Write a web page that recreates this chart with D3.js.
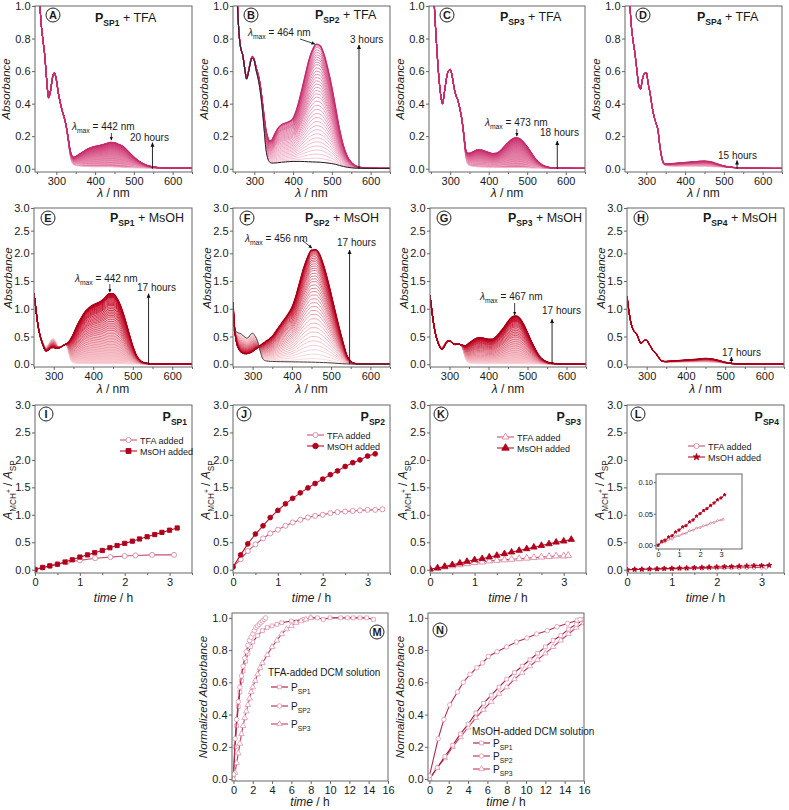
<!DOCTYPE html>
<html><head><meta charset="utf-8">
<script src="https://cdn.jsdelivr.net/npm/d3@7"></script>
<style>
body{margin:0;background:#fff;}
text{font-family:"Liberation Sans",Arial,sans-serif;fill:#1a1a1a;}
</style></head><body>
<script>
// ================= DATA =================
const wl = [250,255,260,265,270,275,280,285,290,295,300,305,310,315,320,325,330,335,340,345,350,360,370,380,390,400,410,420,430,440,450,460,470,480,490,500,510,520,530,540,550,560,580,600,625,650];

const A_init = [1.6,1.15,0.92,0.80,0.70,0.55,0.43,0.47,0.55,0.58,0.54,0.46,0.40,0.35,0.31,0.26,0.18,0.09,0.04,0.025,0.02,0.017,0.015,0.014,0.013,0.012,0.012,0.012,0.012,0.012,0.011,0.010,0.009,0.008,0.007,0.006,0.005,0.005,0.004,0.004,0.004,0.003,0.003,0.003,0.003,0.003];
const A_final = [1.6,1.15,0.92,0.80,0.70,0.55,0.44,0.48,0.56,0.59,0.55,0.47,0.41,0.36,0.32,0.27,0.20,0.12,0.08,0.07,0.075,0.09,0.105,0.12,0.13,0.137,0.142,0.148,0.155,0.162,0.160,0.15,0.14,0.12,0.095,0.072,0.052,0.036,0.024,0.016,0.011,0.008,0.005,0.004,0.003,0.003];
const A_peaks = [0.012,0.03,0.045,0.058,0.07,0.08,0.089,0.097,0.104,0.11,0.116,0.121,0.126,0.13,0.134,0.138,0.141,0.144,0.147,0.149,0.151,0.153,0.155,0.157,0.158,0.159,0.16,0.161,0.162,0.162];

const B_init = [1.5,1.1,0.85,0.74,0.70,0.62,0.55,0.59,0.65,0.68,0.66,0.60,0.55,0.48,0.38,0.25,0.12,0.06,0.04,0.035,0.035,0.037,0.04,0.042,0.044,0.045,0.045,0.045,0.044,0.043,0.042,0.041,0.04,0.038,0.035,0.032,0.027,0.02,0.014,0.009,0.006,0.004,0.003,0.002,0.002,0.002];
const B_final = [1.5,1.1,0.85,0.74,0.70,0.62,0.56,0.60,0.66,0.69,0.67,0.62,0.58,0.52,0.43,0.33,0.24,0.19,0.17,0.175,0.20,0.245,0.27,0.28,0.29,0.31,0.37,0.46,0.56,0.66,0.73,0.765,0.755,0.70,0.61,0.50,0.37,0.24,0.14,0.075,0.04,0.02,0.006,0.003,0.002,0.002];
const B_peaks = [0.041,0.065,0.09,0.115,0.14,0.165,0.19,0.215,0.24,0.265,0.29,0.315,0.34,0.365,0.39,0.415,0.44,0.46,0.48,0.50,0.52,0.54,0.56,0.58,0.60,0.62,0.64,0.655,0.67,0.685,0.70,0.715,0.73,0.745,0.755,0.765];

const C_init = [1.6,1.2,0.95,0.75,0.58,0.46,0.40,0.47,0.55,0.60,0.61,0.57,0.50,0.45,0.42,0.37,0.30,0.20,0.08,0.03,0.02,0.015,0.012,0.011,0.010,0.009,0.009,0.008,0.008,0.008,0.008,0.008,0.008,0.007,0.007,0.006,0.005,0.004,0.004,0.003,0.003,0.003,0.002,0.002,0.002,0.002];
const C_final = [1.6,1.2,0.95,0.75,0.58,0.46,0.40,0.47,0.55,0.60,0.61,0.57,0.50,0.45,0.42,0.37,0.31,0.22,0.12,0.095,0.095,0.105,0.115,0.115,0.108,0.10,0.093,0.095,0.11,0.135,0.16,0.18,0.19,0.185,0.165,0.135,0.10,0.065,0.04,0.022,0.012,0.007,0.004,0.003,0.002,0.002];
const C_peaks = [0.008,0.025,0.04,0.054,0.067,0.079,0.09,0.1,0.109,0.117,0.124,0.131,0.137,0.143,0.148,0.153,0.157,0.161,0.165,0.168,0.171,0.174,0.177,0.179,0.181,0.183,0.185,0.187,0.189,0.19];

const D_init = [1.6,1.15,0.92,0.80,0.72,0.62,0.52,0.49,0.55,0.585,0.59,0.52,0.46,0.38,0.32,0.28,0.23,0.13,0.06,0.025,0.02,0.017,0.016,0.016,0.016,0.016,0.016,0.016,0.016,0.015,0.015,0.014,0.013,0.012,0.011,0.010,0.008,0.007,0.006,0.005,0.005,0.004,0.003,0.003,0.002,0.002];
const D_final = [1.6,1.15,0.92,0.80,0.72,0.62,0.52,0.49,0.55,0.585,0.59,0.52,0.46,0.38,0.32,0.28,0.24,0.14,0.07,0.035,0.03,0.03,0.032,0.034,0.036,0.038,0.04,0.042,0.044,0.046,0.047,0.045,0.04,0.032,0.024,0.017,0.012,0.009,0.007,0.006,0.005,0.004,0.003,0.003,0.002,0.002];
const D_peaks = [0.015,0.02,0.024,0.028,0.031,0.033,0.035,0.037,0.038,0.039,0.04,0.041,0.042,0.043,0.0435,0.044,0.045,0.0455,0.046,0.047];

const E_init = [1.28,0.98,0.72,0.54,0.43,0.35,0.30,0.34,0.40,0.45,0.46,0.40,0.33,0.31,0.32,0.34,0.35,0.30,0.15,0.05,0.025,0.015,0.012,0.011,0.010,0.010,0.010,0.010,0.010,0.010,0.010,0.009,0.009,0.008,0.007,0.006,0.005,0.004,0.004,0.004,0.004,0.003,0.003,0.002,0.002,0.002];
const E_final = [1.28,0.98,0.70,0.52,0.40,0.30,0.24,0.25,0.28,0.30,0.30,0.29,0.29,0.30,0.32,0.34,0.36,0.38,0.42,0.48,0.55,0.71,0.84,0.95,1.02,1.07,1.10,1.14,1.20,1.27,1.27,1.19,1.04,0.82,0.57,0.33,0.15,0.06,0.025,0.012,0.007,0.005,0.003,0.003,0.002,0.002];
const E_peaks = [0.01,0.06,0.11,0.16,0.21,0.26,0.31,0.36,0.41,0.46,0.51,0.56,0.61,0.65,0.69,0.73,0.77,0.81,0.85,0.88,0.91,0.94,0.97,1.0,1.03,1.06,1.08,1.1,1.12,1.14,1.16,1.18,1.2,1.21,1.22,1.23,1.24,1.25,1.26,1.27];

const F_init = [0.62,0.60,0.58,0.56,0.55,0.52,0.49,0.47,0.49,0.54,0.56,0.52,0.46,0.36,0.22,0.11,0.07,0.06,0.055,0.05,0.05,0.048,0.046,0.045,0.044,0.043,0.042,0.041,0.04,0.038,0.037,0.035,0.033,0.03,0.027,0.023,0.018,0.013,0.009,0.006,0.004,0.003,0.002,0.002,0.002,0.002];
const F_final = [1.12,0.58,0.36,0.27,0.22,0.20,0.19,0.19,0.20,0.21,0.23,0.26,0.28,0.31,0.34,0.37,0.39,0.42,0.44,0.47,0.50,0.60,0.70,0.80,0.90,1.02,1.22,1.48,1.73,1.93,2.07,2.08,1.99,1.80,1.55,1.26,0.96,0.67,0.40,0.16,0.05,0.015,0.005,0.003,0.002,0.002];
const F_peaks = [0.035,0.1,0.18,0.26,0.34,0.42,0.5,0.58,0.66,0.74,0.82,0.9,0.97,1.04,1.11,1.18,1.25,1.31,1.37,1.43,1.49,1.54,1.59,1.64,1.69,1.73,1.77,1.81,1.85,1.88,1.91,1.94,1.97,1.99,2.01,2.03,2.05,2.06,2.07,2.08];

const G_init = [1.24,0.95,0.70,0.53,0.42,0.34,0.30,0.34,0.40,0.43,0.43,0.40,0.36,0.35,0.36,0.36,0.34,0.25,0.12,0.05,0.025,0.015,0.012,0.011,0.010,0.010,0.010,0.010,0.010,0.010,0.010,0.010,0.010,0.009,0.008,0.007,0.006,0.005,0.004,0.004,0.003,0.003,0.002,0.002,0.002,0.002];
const G_final = [1.24,0.95,0.70,0.52,0.40,0.31,0.27,0.30,0.36,0.41,0.42,0.40,0.37,0.36,0.36,0.36,0.35,0.34,0.33,0.35,0.38,0.43,0.47,0.48,0.465,0.45,0.45,0.50,0.58,0.67,0.77,0.85,0.87,0.83,0.72,0.57,0.41,0.27,0.15,0.08,0.04,0.02,0.008,0.004,0.003,0.002];
const G_peaks = [0.01,0.05,0.09,0.13,0.17,0.21,0.25,0.29,0.33,0.37,0.41,0.45,0.49,0.52,0.55,0.58,0.61,0.64,0.67,0.69,0.71,0.73,0.75,0.77,0.78,0.79,0.8,0.81,0.82,0.83,0.84,0.85,0.855,0.86,0.865,0.87];

const H_init = [1.23,0.95,0.75,0.63,0.58,0.54,0.45,0.38,0.40,0.43,0.43,0.38,0.32,0.26,0.22,0.18,0.13,0.08,0.05,0.045,0.04,0.04,0.04,0.04,0.04,0.04,0.04,0.04,0.04,0.04,0.04,0.038,0.035,0.03,0.025,0.018,0.012,0.008,0.006,0.004,0.003,0.003,0.002,0.002,0.002,0.002];
const H_final = [1.23,0.95,0.75,0.63,0.58,0.54,0.45,0.38,0.40,0.43,0.43,0.38,0.32,0.26,0.22,0.18,0.13,0.08,0.055,0.05,0.05,0.055,0.06,0.065,0.07,0.075,0.08,0.085,0.09,0.10,0.105,0.10,0.09,0.075,0.055,0.035,0.02,0.012,0.008,0.005,0.004,0.003,0.002,0.002,0.002,0.002];
const H_peaks = [0.04,0.046,0.052,0.057,0.062,0.067,0.071,0.075,0.079,0.082,0.085,0.088,0.091,0.094,0.096,0.098,0.1,0.102,0.104,0.105];

// kinetics (A_MCH+/A_SP vs time / h)
const t10 = [0,0.17,0.33,0.5,0.67,0.83,1.0,1.17,1.33,1.5,1.67,1.83,2.0,2.17,2.33,2.5,2.67,2.83,3.0,3.17];
const I_t_tfa = [0,0.17,0.33,0.5,0.71,1.0,1.34,1.68,2.0,2.24,2.61,3.1];
const I_v_tfa = [0.01,0.04,0.07,0.10,0.14,0.17,0.21,0.23,0.25,0.26,0.27,0.27];
const I_v_ms  = [0.0,0.04,0.07,0.10,0.14,0.18,0.23,0.27,0.31,0.35,0.40,0.44,0.48,0.52,0.56,0.60,0.64,0.68,0.72,0.76];
const J_t_tfa = [0,0.17,0.33,0.5,0.67,0.83,1.0,1.17,1.33,1.5,1.67,1.83,2.0,2.17,2.33,2.5,2.67,2.83,3.0,3.17,3.33];
const J_v_tfa = [0.05,0.19,0.34,0.46,0.57,0.66,0.73,0.80,0.86,0.91,0.95,0.98,1.0,1.03,1.05,1.06,1.07,1.08,1.09,1.09,1.10];
const J_v_ms  = [0.05,0.27,0.47,0.65,0.80,0.95,1.08,1.20,1.30,1.40,1.49,1.57,1.65,1.73,1.80,1.88,1.95,2.0,2.07,2.11];
const K_t_tfa = [0,0.17,0.33,0.5,0.67,0.83,1.0,1.17,1.33,1.5,1.67,1.83,2.0,2.17,2.33,2.5,2.67,2.83,3.0,3.1];
const K_v_tfa = [0.01,0.03,0.05,0.07,0.09,0.11,0.13,0.14,0.16,0.17,0.18,0.19,0.2,0.21,0.22,0.23,0.24,0.25,0.25,0.26];
const K_v_ms  = [0.01,0.03,0.06,0.09,0.12,0.15,0.18,0.20,0.23,0.26,0.29,0.32,0.35,0.38,0.41,0.44,0.47,0.50,0.52,0.55];
const L_t_tfa = [0,0.17,0.33,0.5,0.67,0.83,1.0,1.17,1.33,1.5,1.67,1.83,2.0,2.17,2.33,2.5,2.67,2.83,3.0,3.1];
const L_v_tfa = [0.0,0.004,0.005,0.009,0.01,0.014,0.015,0.018,0.019,0.023,0.024,0.027,0.028,0.031,0.032,0.035,0.036,0.039,0.04,0.041];
const L_v_ms  = [0.0,0.006,0.008,0.013,0.015,0.021,0.024,0.029,0.031,0.037,0.04,0.046,0.05,0.055,0.058,0.063,0.067,0.072,0.075,0.08];

// normalized absorbance (M: TFA, N: MsOH)
const M1_t = [0,0.17,0.33,0.5,0.67,0.83,1.0,1.25,1.5,1.75,2.0,2.5,3.0,3.5,4.0,4.5,5.0,6.0,7.3,8.0,8.7,9.3,10.0,11.1,11.8,12.4,13.1,13.8,14.5];
const M1_v = [0.02,0.2,0.33,0.45,0.54,0.61,0.67,0.73,0.78,0.82,0.85,0.89,0.92,0.94,0.95,0.96,0.97,0.98,0.99,1.0,1.0,0.99,1.0,1.0,1.0,1.0,1.0,1.0,0.99];
const M2_t = [0,0.17,0.33,0.5,0.67,0.83,1.0,1.17,1.33,1.5,1.67,1.83,2.0,2.17,2.33,2.5,2.67,2.83,3.0,3.17,3.33];
const M2_v = [0.03,0.25,0.37,0.48,0.57,0.64,0.70,0.75,0.79,0.83,0.86,0.88,0.9,0.92,0.94,0.95,0.96,0.97,0.98,0.99,1.0];
const M3_t = [0,0.17,0.33,0.5,0.67,0.83,1.0,1.17,1.33,1.5,1.67,1.83,2.0,2.25,2.5,2.75,3.0,3.5,4.0,4.5,5.0,5.5,6.0,6.5,7.0,7.5,8.0];
const M3_v = [0.0,0.04,0.1,0.16,0.22,0.28,0.33,0.38,0.42,0.46,0.5,0.54,0.57,0.61,0.65,0.69,0.72,0.77,0.82,0.86,0.9,0.93,0.95,0.97,0.98,0.99,1.0];
const N13_t = [0,0.8,1.6,2.4,3.2,4.0,4.8,5.6,6.4,7.2,8.0,8.8,9.6,10.4,11.2,12.0,12.8,13.6,14.4,15.2,16.0];
const N1_v = [0.0,0.07,0.14,0.21,0.28,0.34,0.41,0.47,0.52,0.57,0.62,0.66,0.70,0.74,0.78,0.82,0.86,0.89,0.93,0.96,0.99];
const N3_v = [0.0,0.07,0.13,0.2,0.26,0.32,0.38,0.43,0.48,0.53,0.57,0.62,0.66,0.70,0.74,0.78,0.82,0.86,0.90,0.94,0.97];
const N2_t = [0,0.9,1.5,2.1,2.9,3.5,4.2,4.9,5.5,6.1,7.0,8.0,9.0,10.1,11.1,12.2,13.2,14.3,15.3,15.6];
const N2_v = [0.02,0.25,0.37,0.46,0.54,0.60,0.65,0.69,0.72,0.76,0.79,0.82,0.85,0.875,0.90,0.92,0.945,0.965,0.985,0.99];

// tick labels
const specXTicks = [300,400,500,600];
const specXMinor = [250,350,450,550,650];
const row1YTicks = [0,0.2,0.4,0.6,0.8,1.0];
const row2YTicks = [0,0.5,1.0,1.5,2.0,2.5,3.0];
const kinYTicks = [0,0.5,1.0,1.5,2.0,2.5,3.0];
const kinXTicks = [0,1,2,3];
const kinXMinor = [0.5,1.5,2.5,3.5];
const insetYTicks = [0,0.05,0.10];
const normYTicks = [0,0.2,0.4,0.6,0.8,1.0];
const normXTicks = [0,2,4,6,8,10,12,14,16];

// ================= DRAWING =================
const svg = d3.select("body").append("svg").attr("width",789).attr("height",810);
const defs = svg.append("defs");
defs.append("marker").attr("id","arr").attr("viewBox","0 0 8 8").attr("refX",7).attr("refY",4)
  .attr("markerWidth",5).attr("markerHeight",5).attr("orient","auto")
  .append("path").attr("d","M0,0.5 L8,4 L0,7.5 Z").attr("fill","#111");
const FRAME = "#666";
let clipN = 0;

function rich(g, x, y, parts, size, anchor, extra){
  const t = g.append("text").attr("x",x).attr("y",y).attr("font-size",size).attr("text-anchor",anchor||"start");
  let shift = 0;
  parts.forEach(p=>{
    const target = p.sub ? size*0.32 : (p.sup ? -size*0.1 : 0);
    const ts = t.append("tspan").attr("dy", target-shift).text(p.t)
      .attr("font-size", p.sub ? size*0.68 : (p.sup? size*0.55 : size));
    if(p.b) ts.attr("font-weight","bold");
    if(p.i) ts.attr("font-style","italic");
    shift = target;
  });
  if(extra) extra(t);
  return t;
}

function makePanel(c){
  const g = svg.append("g");
  if(c.bg) g.append("rect").attr("x",c.l).attr("y",c.t).attr("width",c.r-c.l).attr("height",c.b-c.t).attr("fill",c.bg);
  const x = d3.scaleLinear().domain(c.xd).range([c.l,c.r]);
  const y = d3.scaleLinear().domain(c.yd).range(c.yr || [c.b,c.t]);
  const id = "clip"+(clipN++);
  defs.append("clipPath").attr("id",id).append("rect").attr("x",c.l).attr("y",c.t).attr("width",c.r-c.l).attr("height",c.b-c.t);
  const plot = g.append("g").attr("clip-path",`url(#${id})`);
  return {g,x,y,plot,c};
}

function frameAxes(P, xt, xm, yt, xfmt, yfmt){
  const c = P.c, g = P.g;
  g.append("rect").attr("x",c.l).attr("y",c.t).attr("width",c.r-c.l).attr("height",c.b-c.t)
    .attr("fill","none").attr("stroke",FRAME).attr("stroke-width",1);
  const style = sel => { sel.select(".domain").remove(); sel.selectAll("line").attr("stroke",FRAME);
    sel.selectAll("text").attr("font-size",11).attr("fill","#1a1a1a").attr("font-family","Liberation Sans, Arial, sans-serif"); };
  g.append("g").attr("transform",`translate(0,${c.b})`).call(d3.axisBottom(P.x).tickValues(xt).tickSize(3).tickPadding(2).tickFormat(xfmt)).call(style);
  if(xm) g.append("g").attr("transform",`translate(0,${c.b})`).call(d3.axisBottom(P.x).tickValues(xm).tickSize(2).tickFormat("")).call(style);
  g.append("g").attr("transform",`translate(${c.l},0)`).call(d3.axisLeft(P.y).tickValues(yt).tickSize(3).tickPadding(1.5).tickFormat(yfmt)).call(style);
}

function circleLabel(g, cx, cy, ch){
  g.append("circle").attr("cx",cx).attr("cy",cy).attr("r",7).attr("fill","#fff").attr("stroke","#222").attr("stroke-width",1);
  g.append("text").attr("x",cx).attr("y",cy+4).attr("text-anchor","middle").attr("font-size",11).attr("font-weight","bold").text(ch);
}

function yTitle(g, x, y, parts, size){
  rich(g, 0, 0, parts, size, "middle", t=>t.attr("transform",`translate(${x},${y}) rotate(-90)`));
}

function family(P, init, fin, peaks, colA, colB, finalCol, opts){
  const line = d3.line().x(d=>P.x(d[0])).y(d=>P.y(d[1])).curve(d3.curveMonotoneX);
  const h0 = peaks[0], hf = peaks[peaks.length-1];
  const col = d3.interpolateRgb(colA, colB);
  if(opts.fill){
    const area = d3.area().x((d,k)=>P.x(wl[k])).y0((d,k)=>P.y(init[k])).y1((d,k)=>P.y(fin[k])).curve(d3.curveMonotoneX);
    P.plot.append("path").attr("d",area(init)).attr("fill",opts.fill).attr("stroke","none");
  }
  peaks.forEach(h=>{
    const p = (h-h0)/(hf-h0);
    const vals = wl.map((w,k)=>[w, init[k] + p*(fin[k]-init[k])]);
    P.plot.append("path").attr("d",line(vals)).attr("fill","none").attr("stroke",col(p)).attr("stroke-width",opts.sw);
  });
  P.plot.append("path").attr("d",line(wl.map((w,k)=>[w,fin[k]]))).attr("fill","none").attr("stroke",finalCol).attr("stroke-width",1.4);
  if(opts.initCol) P.plot.append("path").attr("d",line(wl.map((w,k)=>[w,init[k]]))).attr("fill","none").attr("stroke",opts.initCol).attr("stroke-width",1);
}

function vArrow(P, wlx, top, txt, tx, ty){
  P.g.append("line").attr("x1",P.x(wlx)).attr("x2",P.x(wlx)).attr("y1",P.y(0)).attr("y2",P.y(top))
    .attr("stroke","#111").attr("stroke-width",0.9).attr("marker-end","url(#arr)");
  P.g.append("text").attr("x",tx).attr("y",ty).attr("font-size",10).text(txt);
}
function lmax(P, txt, tx, ty, x1, y1, x2, y2){
  rich(P.g, tx, ty, [{t:"λ",i:true},{t:"max",sub:true},{t:" = "+txt}], 10, "start");
  P.g.append("line").attr("x1",x1).attr("y1",y1).attr("x2",x2).attr("y2",y2)
    .attr("stroke","#111").attr("stroke-width",0.8).attr("marker-end","url(#arr)");
}
function title(g, x, y, sub, rest, anchor){
  rich(g, x, y, [{t:"P",b:true},{t:sub,sub:true,b:true},{t:rest}], 12.5, anchor||"start");
}
const f1 = d3.format(".1f"), fd = d3.format("d"), f2 = d3.format(".2f");

// ---------- Row 1 ----------
const R1 = {t:6,b:172,yd:[-0.02,1.0],xd:[245,650]};
const row1 = [
  {l:35,r:192,init:A_init,fin:A_final,pk:A_peaks,lab:"A"},
  {l:233,r:390,init:B_init,fin:B_final,pk:B_peaks,lab:"B"},
  {l:429,r:585,init:C_init,fin:C_final,pk:C_peaks,lab:"C"},
  {l:625,r:782,init:D_init,fin:D_final,pk:D_peaks,lab:"D"}
];
const P1 = row1.map((d,i)=>{
  const P = makePanel({...R1,l:d.l,r:d.r});
  family(P, d.init, d.fin, d.pk, "#f4b3ca", "#cc3572", "#c42c6a",
    i===1 ? {sw:0.7, initCol:"#222"} : {sw:1, fill:"#e27aa3"});
  frameAxes(P, specXTicks, specXMinor, row1YTicks, fd, f1);
  circleLabel(P.g, d.l+18, 15, d.lab);
  yTitle(P.g, d.l-25, 89, [{t:"Absorbance",i:true}], 11.5);
  rich(P.g, (d.l+d.r)/2, 197, [{t:"λ",i:true},{t:" / nm"}], 12, "middle");
  return P;
});
title(P1[0].g, 95, 22, "SP1", " + TFA");
title(P1[1].g, 315, 19, "SP2", " + TFA");
title(P1[2].g, 500, 21, "SP3", " + TFA");
title(P1[3].g, 697, 21, "SP4", " + TFA");
lmax(P1[0], "442 nm", 72, 130, P1[0].x(442), 133, P1[0].x(442), 140);
vArrow(P1[0], 548, 0.16, "20 hours", 130, 141);
lmax(P1[1], "464 nm", 248, 36, 300, 39, P1[1].x(464)-3, 44);
vArrow(P1[1], 570, 0.76, "3 hours", 350, 43);
lmax(P1[2], "473 nm", 485, 126, P1[2].x(473), 129, P1[2].x(473), 136);
vArrow(P1[2], 578, 0.17, "18 hours", 540, 136);
vArrow(P1[3], 534, 0.05, "15 hours", 718, 159);

// ---------- Row 2 ----------
const R2 = {t:208,b:367,yd:[-0.05,2,3],yr:[367,253.3,208],xd:[250,650]};
const row2 = [
  {l:34,r:192,init:E_init,fin:E_final,pk:E_peaks,lab:"E"},
  {l:233,r:390,init:F_init,fin:F_final,pk:F_peaks,lab:"F"},
  {l:430,r:586,init:G_init,fin:G_final,pk:G_peaks,lab:"G"},
  {l:627,r:784,init:H_init,fin:H_final,pk:H_peaks,lab:"H"}
];
const P2 = row2.map((d,i)=>{
  const P = makePanel({...R2,l:d.l,r:d.r});
  family(P, d.init, d.fin, d.pk, "#fbd3d9", "#c0001f", "#a30018",
    i===1 ? {sw:0.7, initCol:"#444"} : {sw:1, fill:"#f6bfc8"});
  frameAxes(P, specXTicks, specXMinor, row2YTicks, fd, f1);
  circleLabel(P.g, d.l+14, 218, d.lab);
  yTitle(P.g, d.l-22, 278, [{t:"Absorbance",i:true}], 11.5);
  rich(P.g, (d.l+d.r)/2, 393, [{t:"λ",i:true},{t:" / nm"}], 12, "middle");
  return P;
});
title(P2[0].g, 110, 222, "SP1", " + MsOH");
title(P2[1].g, 305, 222, "SP2", " + MsOH");
title(P2[2].g, 508, 222, "SP3", " + MsOH");
title(P2[3].g, 703, 222, "SP4", " + MsOH");
lmax(P2[0], "442 nm", 75, 282, P2[0].x(442), 284, P2[0].x(442), 292);
vArrow(P2[0], 540, 1.27, "17 hours", 137, 291);
lmax(P2[1], "456 nm", 245, 242, 302, 240, P2[1].x(456)-2, 248);
vArrow(P2[1], 547, 2.07, "17 hours", 337, 246);
lmax(P2[2], "467 nm", 480, 300, P2[2].x(467), 303, P2[2].x(467), 315);
vArrow(P2[2], 563, 0.81, "17 hours", 542, 314);
vArrow(P2[3], 516, 0.13, "17 hours", 722, 356);

// ---------- Row 3 ----------
const R3 = {t:405,b:573,yd:[-0.06,3.0],xd:[0,3.5]};
const TFA_LINE = "#c8506e", TFA_MK = "#d98aa1", MS_LINE = "#b3122e", MS_MK = "#b0001c";
function series(P, xs, ys, lineCol, sym, size, fill, stroke, lw){
  const pts = xs.map((t,i)=>[t,ys[i]]);
  const line = d3.line().x(d=>P.x(d[0])).y(d=>P.y(d[1]));
  P.plot.append("path").attr("d",line(pts)).attr("fill","none").attr("stroke",lineCol).attr("stroke-width",lw||1.1);
  const s = d3.symbol().type(sym).size(size);
  P.plot.selectAll(null).data(pts).enter().append("path").attr("d",s)
    .attr("transform",d=>`translate(${P.x(d[0])},${P.y(d[1])})`)
    .attr("fill",fill).attr("stroke",stroke).attr("stroke-width",0.9);
}
function legendRow(g, x, y, lineCol, sym, size, fill, stroke, parts, fs){
  g.append("line").attr("x1",x).attr("x2",x+17).attr("y1",y).attr("y2",y).attr("stroke",lineCol).attr("stroke-width",1.1);
  g.append("path").attr("d",d3.symbol().type(sym).size(size)()).attr("transform",`translate(${x+8.5},${y})`)
    .attr("fill",fill).attr("stroke",stroke).attr("stroke-width",0.9);
  rich(g, x+20, y+3.5, parts, fs, "start");
}
const row3 = [
  {l:35,r:192,lab:"I",sub:"SP1",tt:I_t_tfa,tv:I_v_tfa,mv:I_v_ms,msym:d3.symbolSquare,tsym:d3.symbolCircle,lx:120,ly:440,ms:18},
  {l:233,r:390,lab:"J",sub:"SP2",tt:J_t_tfa,tv:J_v_tfa,mv:J_v_ms,msym:d3.symbolCircle,tsym:d3.symbolCircle,lx:307,ly:435,ms:18},
  {l:430,r:586,lab:"K",sub:"SP3",tt:K_t_tfa,tv:K_v_tfa,mv:K_v_ms,msym:d3.symbolTriangle,tsym:d3.symbolTriangle,lx:497,ly:437,ms:18},
  {l:627,r:784,lab:"L",sub:"SP4",tt:L_t_tfa,tv:L_v_tfa,mv:L_v_ms,msym:d3.symbolStar,tsym:d3.symbolCircle,lx:688,ly:446,ms:8}
];
row3.forEach((d,i)=>{
  const P = makePanel({...R3,l:d.l,r:d.r});
  series(P, d.tt, d.tv, TFA_LINE, d.tsym, i===3?10:20, "#fff", TFA_MK);
  series(P, t10, d.mv, MS_LINE, d.msym, d.ms, MS_MK, MS_MK);
  frameAxes(P, kinXTicks, kinXMinor, kinYTicks, fd, f1);
  circleLabel(P.g, d.l+11, 414, d.lab);
  rich(P.g, d.r-5, 421, [{t:"P",b:true},{t:d.sub,sub:true,b:true}], 12.5, "end");
  yTitle(P.g, d.l-23, 490, [{t:"A",i:true},{t:"MCH",sub:true},{t:"+",sup:true},{t:" / "},{t:"A",i:true},{t:"SP",sub:true}], 12);
  rich(P.g, (d.l+d.r)/2, 602, [{t:"time",i:true},{t:" / h"}], 12, "middle");
  legendRow(P.g, d.lx, d.ly, TFA_LINE, d.tsym, 20, "#fff", TFA_MK, [{t:"TFA added"}], 9);
  legendRow(P.g, d.lx, d.ly+11, MS_LINE, d.msym, d.ms+6, MS_MK, MS_MK, [{t:"MsOH added"}], 9);
  if(i===3){
    // inset (zoomed view of the same data)
    const Q = makePanel({l:656,r:742,t:474,b:549,xd:[-0.1,4],yd:[-0.006,0.113],bg:"#fff"});
    series(Q, d.tt, d.tv, TFA_LINE, d3.symbolCircle, 3, "#fff", TFA_MK, 0.8);
    series(Q, t10, d.mv, MS_LINE, d3.symbolStar, 3, MS_MK, MS_MK, 0.8);
    const c = Q.c;
    Q.g.append("rect").attr("x",c.l).attr("y",c.t).attr("width",c.r-c.l).attr("height",c.b-c.t).attr("fill","none").attr("stroke",FRAME);
    const st = sel=>{sel.select(".domain").remove(); sel.selectAll("line").attr("stroke",FRAME); sel.selectAll("text").attr("font-size",7.5).attr("fill","#1a1a1a");};
    Q.g.append("g").attr("transform",`translate(0,${c.b})`).call(d3.axisBottom(Q.x).tickValues(kinXTicks).tickSize(2).tickPadding(1).tickFormat(fd)).call(st);
    Q.g.append("g").attr("transform",`translate(${c.l},0)`).call(d3.axisLeft(Q.y).tickValues(insetYTicks).tickSize(2).tickPadding(1).tickFormat(f2)).call(st);
  }
});

// ---------- Row 4 ----------
const R4 = {t:613,b:781,yd:[-0.012,1.03],xd:[-0.15,16]};
const NL1 = "#a3163c", NL2 = "#b52a52", NL3 = "#c23b62", NMK = "#e2a1b4";
const PM = makePanel({...R4,l:232,r:388});
series(PM, M1_t, M1_v, NL1, d3.symbolSquare, 14, "#fff", NMK);
series(PM, M3_t, M3_v, NL3, d3.symbolTriangle, 14, "#fff", NMK);
series(PM, M2_t, M2_v, NL2, d3.symbolCircle, 16, "#fff", NMK);
frameAxes(PM, normXTicks, null, normYTicks, fd, f1);
circleLabel(PM.g, 377, 632, "M");
yTitle(PM.g, 207, 697, [{t:"Normalized Absorbance",i:true}], 11.5);
rich(PM.g, 310, 806, [{t:"time",i:true},{t:" / h"}], 12, "middle");
PM.g.append("text").attr("x",268).attr("y",676).attr("font-size",10).text("TFA-added DCM solution");
legendRow(PM.g, 271, 687, NL1, d3.symbolSquare, 14, "#fff", NMK, [{t:"P"},{t:"SP1",sub:true}], 10);
legendRow(PM.g, 271, 706, NL2, d3.symbolCircle, 16, "#fff", NMK, [{t:"P"},{t:"SP2",sub:true}], 10);
legendRow(PM.g, 271, 724, NL3, d3.symbolTriangle, 14, "#fff", NMK, [{t:"P"},{t:"SP3",sub:true}], 10);

const PN = makePanel({...R4,l:428,r:584});
series(PN, N13_t, N3_v, NL3, d3.symbolTriangle, 14, "#fff", NMK);
series(PN, N13_t, N1_v, NL1, d3.symbolSquare, 14, "#fff", NMK);
series(PN, N2_t, N2_v, NL2, d3.symbolCircle, 16, "#fff", NMK);
frameAxes(PN, normXTicks, null, normYTicks, fd, f1);
circleLabel(PN.g, 440, 630, "N");
yTitle(PN.g, 404, 697, [{t:"Normalized Absorbance",i:true}], 11.5);
rich(PN.g, 506, 806, [{t:"time",i:true},{t:" / h"}], 12, "middle");
PN.g.append("text").attr("x",472).attr("y",735).attr("font-size",10).text("MsOH-added DCM solution");
legendRow(PN.g, 473, 743, NL1, d3.symbolSquare, 14, "#fff", NMK, [{t:"P"},{t:"SP1",sub:true}], 10);
legendRow(PN.g, 473, 756, NL2, d3.symbolCircle, 16, "#fff", NMK, [{t:"P"},{t:"SP2",sub:true}], 10);
legendRow(PN.g, 473, 769, NL3, d3.symbolTriangle, 14, "#fff", NMK, [{t:"P"},{t:"SP3",sub:true}], 10);
</script>
</body></html>
